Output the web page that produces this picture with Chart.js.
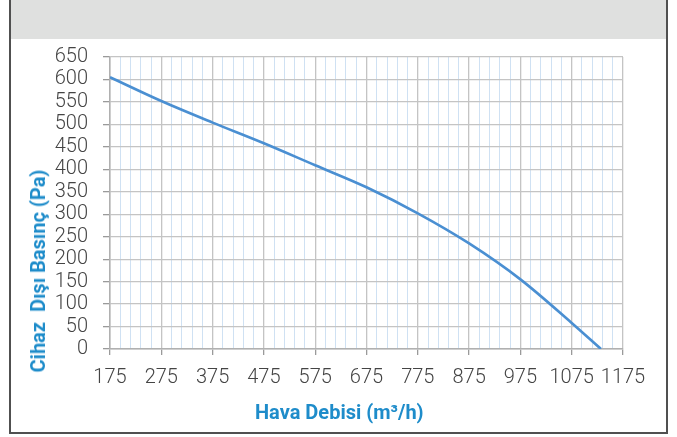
<!DOCTYPE html>
<html>
<head>
<meta charset="utf-8">
<script src="https://cdn.jsdelivr.net/npm/chart.js@4.4.0/dist/chart.umd.min.js"></script>
<style>
    body { margin: 0; width: 677px; height: 437px; background: #fff; overflow: hidden; position: relative; font-family: Roboto, sans-serif; }
    #frame { position: absolute; left: 9px; top: -2px; width: 655px; height: 432px; border: 2px solid #505050; }
    #band { position: absolute; left: 11px; top: 0; width: 655px; height: 39px; background: #dfe0df; }
    #wrap { position: absolute; left: 0; top: 0; width: 677px; height: 437px; }
    .atitle { position: absolute; color: #1e8cca; font-weight: bold; font-size: 20px; white-space: pre; }
    #xtitle { left: 255px; top: 400px; }
    #ytitle { left: 38px; top: 271px; transform: translate(-50%, -50%) rotate(-90deg); }
</style>
</head>
<body>
<div id="band"></div>
<div id="frame"></div>
<div id="wrap"><canvas id="myChart" width="677" height="437"></canvas></div>
<div class="atitle" id="xtitle">Hava Debisi (m³/h)</div>
<div class="atitle" id="ytitle">Cihaz  Dışı Basınç (Pa)</div>
<script>
// fan curve
const flowValues = [175, 275, 375, 475, 575, 675, 775, 875, 975, 1075, 1132];
const pressureValues = [605, 552, 504, 458, 409, 360, 302, 235, 155, 58, 0];

const xMin = 175, xMax = 1175, xStep = 20, xLabelStep = 100;
const yMin = 0, yMax = 650, yStep = 50;

const points = flowValues.map((v, i) => ({ x: v, y: pressureValues[i] }));

function isMajor(v) {
    return (v - xMin) % xLabelStep === 0;
}

const tickFont = { family: 'Roboto', size: 20, weight: 300 };

const ctx = document.getElementById('myChart');

myChart = new Chart(ctx, {
    type: 'line',
    data: {
        datasets: [{
            data: points,
            borderColor: '#4a8fd2',
            borderWidth: 2.6,
            pointRadius: 0,
            cubicInterpolationMode: 'monotone',
            fill: false
        }]
    },
    options: {
        responsive: false,
        animation: false,
        layout: { padding: { left: 50, right: 54, top: 57, bottom: 0 } },
        plugins: { legend: { display: false }, tooltip: { enabled: false } },
        scales: {
            x: {
                type: 'linear',
                min: xMin,
                max: xMax,
                afterBuildTicks: (s) => {
                    s.ticks = [];
                    for (let v = xMin; v <= xMax; v += xStep) s.ticks.push({ value: v });
                },
                afterFit: (s) => { s.height = 88; },
                border: { color: '#b0b0b0', width: 1.5 },
                grid: {
                    color: (c) => isMajor(c.tick.value) ? '#c4c4c4' : '#cfe1f3',
                    lineWidth: (c) => isMajor(c.tick.value) ? 1.3 : 1,
                    tickColor: (c) => isMajor(c.tick.value) ? '#9a9a9a' : 'rgba(0,0,0,0)',
                    tickLength: 6
                },
                ticks: {
                    autoSkip: false,
                    maxRotation: 0,
                    padding: 11,
                    color: '#444',
                    font: tickFont,
                    callback: (v) => isMajor(v) ? v : ''
                }
            },
            y: {
                min: yMin,
                max: yMax,
                afterFit: (s) => { s.width = 60; },
                border: { color: '#b0b0b0', width: 1.5 },
                grid: {
                    color: '#c4c4c4',
                    lineWidth: 1.3,
                    tickColor: '#9a9a9a',
                    tickLength: 7
                },
                ticks: {
                    autoSkip: false,
                    stepSize: yStep,
                    padding: 15,
                    color: '#444',
                    font: tickFont
                }
            }
        }
    }
});
</script>
</body>
</html>
